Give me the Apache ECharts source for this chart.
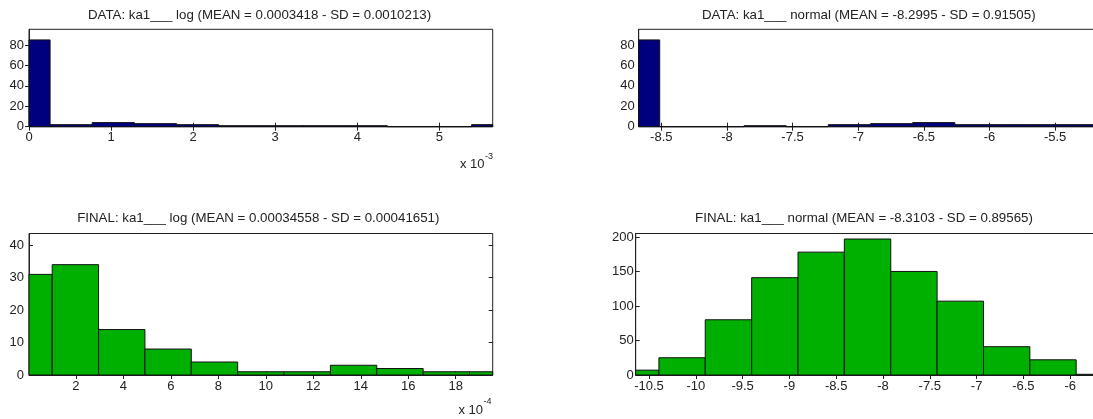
<!DOCTYPE html>
<html>
<head>
<meta charset="utf-8">
<script src="https://cdn.jsdelivr.net/npm/echarts@6/dist/echarts.min.js"></script>
<style>
  html, body { margin: 0; padding: 0; background: #ffffff; }
  #chart { width: 1093px; height: 419px; }
</style>
</head>
<body>
<div id="chart"></div>
<script>
// ---- Histogram data: bin edges and counts for each panel ----
// DATA, linear scale (x in units of 1e-3 shown on the axis)
const dataLinEdges = [-0.000257, 0.000257, 0.000770, 0.001284, 0.001798, 0.002311, 0.002825,
                      0.003339, 0.003852, 0.004366, 0.004879, 0.005393, 0.005907];
const dataLinCounts = [85, 2, 4, 3, 2, 1, 1, 1, 1, 0, 0, 2];

// DATA, log scale
const dataLogEdges = [-8.833, -8.512, -8.191, -7.870, -7.549, -7.228, -6.906,
                      -6.585, -6.264, -5.943, -5.622, -5.301, -4.979];
const dataLogCounts = [85, 0, 0, 1, 0, 2, 3, 4, 2, 2, 2, 2];

// FINAL, linear scale (x in units of 1e-4 shown on the axis)
const finalLinEdges = [-0.0000957, 0.0000997, 0.0002951, 0.0004905, 0.0006859, 0.0008813,
                       0.0010767, 0.0012721, 0.0014675, 0.0016629, 0.0018583, 0.0020537];
const finalLinCounts = [31, 34, 14, 8, 4, 1, 1, 3, 2, 1, 1];

// FINAL, log scale
const finalLogEdges = [-10.890, -10.394, -9.899, -9.403, -8.908, -8.413,
                       -7.917, -7.422, -6.926, -6.431, -5.936, -5.440];
const finalLogCounts = [7, 25, 80, 141, 178, 197, 150, 107, 41, 22, 1];

// ---- Axis ticks ----
const dataLinXTicks  = [0, 0.001, 0.002, 0.003, 0.004, 0.005];
const dataLogXTicks  = [-8.5, -8, -7.5, -7, -6.5, -6, -5.5];
const finalLinXTicks = [0.0002, 0.0004, 0.0006, 0.0008, 0.0010, 0.0012, 0.0014, 0.0016, 0.0018];
const finalLogXTicks = [-10.5, -10, -9.5, -9, -8.5, -8, -7.5, -7, -6.5, -6];
const dataYTicks     = [0, 20, 40, 60, 80];
const finalLinYTicks = [0, 10, 20, 30, 40];
const finalLogYTicks = [0, 50, 100, 150, 200];

// ---- Titles ----
const titles = [
  'DATA: ka1___ log (MEAN = 0.0003418 - SD = 0.0010213)',
  'DATA: ka1___ normal (MEAN = -8.2995 - SD = 0.91505)',
  'FINAL: ka1___ log (MEAN = 0.00034558 - SD = 0.00041651)',
  'FINAL: ka1___ normal (MEAN = -8.3103 - SD = 0.89565)'
];

const NAVY = '#00007f';
const GREEN = '#00b000';
const INK = '#222222';
const FONT = '"Liberation Sans", Arial, Helvetica, sans-serif';

const panels = [
  { edges: dataLinEdges, counts: dataLinCounts, color: NAVY,
    grid: { left: 29, top: 29.3, width: 463.7, height: 97.4 },
    xMin: 0, xMax: 0.00565, yMax: 95.4, xTicks: dataLinXTicks, yTicks: dataYTicks,
    fmt: v => String(Math.round(v * 1000)), yMargin: 5, xMargin: 4 },
  { edges: dataLogEdges, counts: dataLogCounts, color: NAVY,
    grid: { left: 638.7, top: 29.3, width: 463.7, height: 97.4 },
    xMin: -8.672, xMax: -5.140, yMax: 95.4, xTicks: dataLogXTicks, yTicks: dataYTicks,
    fmt: v => String(v), yMargin: 4, xMargin: 4 },
  { edges: finalLinEdges, counts: finalLinCounts, color: GREEN,
    grid: { left: 29, top: 233.5, width: 463.7, height: 141.5 },
    xMin: 0.000002, xMax: 0.001956, yMax: 43.6, xTicks: finalLinXTicks, yTicks: finalLinYTicks,
    fmt: v => String(Math.round(v * 10000)), yMargin: 5, xMargin: 5 },
  { edges: finalLogEdges, counts: finalLogCounts, color: GREEN,
    grid: { left: 635.7, top: 233.5, width: 463.7, height: 141.5 },
    xMin: -10.642, xMax: -5.688, yMax: 205, xTicks: finalLogXTicks, yTicks: finalLogYTicks,
    fmt: v => String(v), yMargin: 2, xMargin: 5 }
];

const labelStyle = { color: INK, fontSize: 13, fontFamily: FONT };
const grids = [], xAxes = [], yAxes = [], series = [];

panels.forEach((p, i) => {
  grids.push(Object.assign({ show: true, borderColor: INK, borderWidth: 1,
                             backgroundColor: '#ffffff', containLabel: false,
                             outerBoundsMode: 'none' }, p.grid));
  // bottom axis with labels
  xAxes.push({
    type: 'value', gridIndex: i, position: 'bottom', min: p.xMin, max: p.xMax,
    axisLine: { show: true, lineStyle: { color: INK, width: 1 } },
    axisTick: { show: true, inside: true, length: 4, customValues: p.xTicks, lineStyle: { color: INK } },
    axisLabel: Object.assign({ show: true, margin: p.xMargin, customValues: p.xTicks,
                               formatter: p.fmt }, labelStyle),
    splitLine: { show: false }
  });
  // mirrored ticks on the top edge
  xAxes.push({
    type: 'value', gridIndex: i, position: 'top', min: p.xMin, max: p.xMax,
    axisLine: { show: false },
    axisTick: { show: true, inside: true, length: 4, customValues: p.xTicks, lineStyle: { color: INK } },
    axisLabel: { show: false },
    splitLine: { show: false }
  });
  // left axis with labels
  yAxes.push({
    type: 'value', gridIndex: i, position: 'left', min: 0, max: p.yMax,
    axisLine: { show: true, lineStyle: { color: INK, width: 1 } },
    axisTick: { show: true, inside: true, length: 4, customValues: p.yTicks, lineStyle: { color: INK } },
    axisLabel: Object.assign({ show: true, margin: p.yMargin, customValues: p.yTicks }, labelStyle),
    splitLine: { show: false }
  });
  // mirrored ticks on the right edge
  yAxes.push({
    type: 'value', gridIndex: i, position: 'right', min: 0, max: p.yMax,
    axisLine: { show: false },
    axisTick: { show: true, inside: true, length: 4, customValues: p.yTicks, lineStyle: { color: INK } },
    axisLabel: { show: false },
    splitLine: { show: false }
  });

  const rows = p.counts.map((c, k) => [p.edges[k], p.edges[k + 1], c]);
  series.push({
    type: 'custom',
    xAxisIndex: 2 * i, yAxisIndex: 2 * i,
    data: rows,
    encode: { x: [0, 1], y: 2 },
    z: 3,
    silent: true,
    renderItem: (params, api) => {
      const topLeft = api.coord([api.value(0), api.value(2)]);
      const bottomRight = api.coord([api.value(1), 0]);
      const cs = params.coordSys;
      const shape = echarts.graphic.clipRectByRect(
        { x: topLeft[0], y: topLeft[1], width: bottomRight[0] - topLeft[0], height: bottomRight[1] - topLeft[1] },
        { x: cs.x, y: cs.y, width: cs.width, height: cs.height }
      );
      if (!shape) return null;
      return { type: 'rect', shape: shape,
               style: { fill: p.color, stroke: '#111111', lineWidth: 1 } };
    }
  });
});

// Titles and axis exponent notes
const titleFont = '13.3px ' + FONT;
const noteFont = '13px ' + FONT;
const graphics = [
  { type: 'text', x: 259.5, y: 15, style: { text: titles[0], font: titleFont, fill: INK, textAlign: 'center', textVerticalAlign: 'middle' } },
  { type: 'text', x: 868.8, y: 15, style: { text: titles[1], font: titleFont, fill: INK, textAlign: 'center', textVerticalAlign: 'middle' } },
  { type: 'text', x: 258.3, y: 218.3, style: { text: titles[2], font: titleFont, fill: INK, textAlign: 'center', textVerticalAlign: 'middle' } },
  { type: 'text', x: 864, y: 218.3, style: { text: titles[3], font: titleFont, fill: INK, textAlign: 'center', textVerticalAlign: 'middle' } },
  { type: 'text', x: 484.5, y: 164, style: { text: 'x 10', font: noteFont, fill: INK, textAlign: 'right', textVerticalAlign: 'middle' } },
  { type: 'text', x: 485, y: 157, style: { text: '-3', font: '9px ' + FONT, fill: INK, textAlign: 'left', textVerticalAlign: 'middle' } },
  { type: 'text', x: 483, y: 410, style: { text: 'x 10', font: noteFont, fill: INK, textAlign: 'right', textVerticalAlign: 'middle' } },
  { type: 'text', x: 483.5, y: 402, style: { text: '-4', font: '9px ' + FONT, fill: INK, textAlign: 'left', textVerticalAlign: 'middle' } }
];

const chart = echarts.init(document.getElementById('chart'), null, { renderer: 'canvas' });
chart.setOption({
  animation: false,
  backgroundColor: '#ffffff',
  grid: grids,
  xAxis: xAxes,
  yAxis: yAxes,
  series: series,
  graphic: graphics
});
</script>
</body>
</html>
